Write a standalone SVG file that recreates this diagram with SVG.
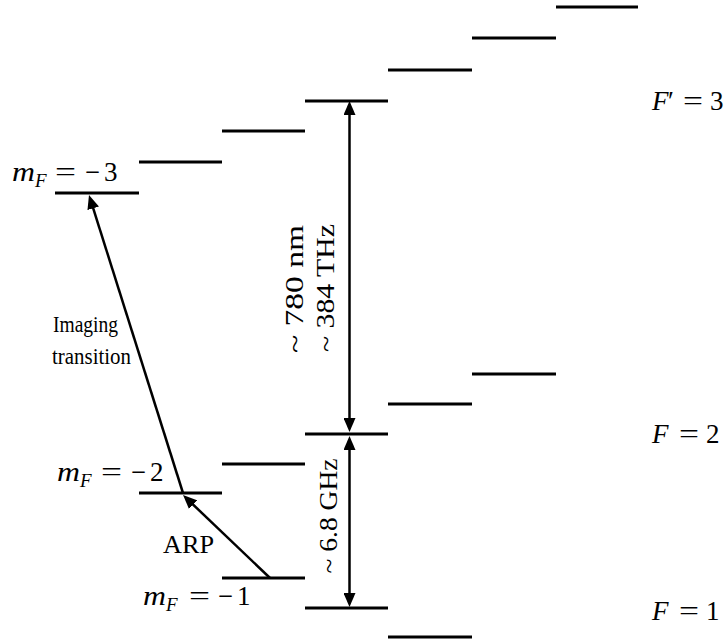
<svg xmlns="http://www.w3.org/2000/svg" width="724" height="641" viewBox="0 0 724 641">
<style>
.lvl{stroke:#000;stroke-width:3;}
.arr{stroke:#000;stroke-width:2.5;fill:none;}
.t{font-family:"Liberation Serif","Times New Roman",serif;fill:#000;}
.m{font-family:"Liberation Serif","Times New Roman",serif;fill:#000;font-size:27px;}
.i{font-style:italic;}
.sub{font-style:italic;font-size:19px;}
</style>
<defs>
<marker id="ah" markerUnits="userSpaceOnUse" markerWidth="14" markerHeight="12" viewBox="0 0 14 12" refX="6" refY="6" orient="auto-start-reverse">
<path d="M0,0 L14,6 L0,12 z" fill="#000"/>
</marker>
</defs>
<rect width="724" height="641" fill="#fff"/>

<g id="excited-Fp3">
<line class="lvl" x1="556" y1="7" x2="638" y2="7"/>
<line class="lvl" x1="472" y1="38" x2="556" y2="38"/>
<line class="lvl" x1="388" y1="70" x2="472" y2="70"/>
<line class="lvl" x1="305" y1="101" x2="388" y2="101"/>
<line class="lvl" x1="222" y1="131" x2="305" y2="131"/>
<line class="lvl" x1="139" y1="162" x2="222" y2="162"/>
<line class="lvl" x1="55" y1="193" x2="139" y2="193"/>
</g>
<g id="ground-F2">
<line class="lvl" x1="472" y1="374" x2="556" y2="374"/>
<line class="lvl" x1="388" y1="404" x2="472" y2="404"/>
<line class="lvl" x1="305" y1="434" x2="388" y2="434"/>
<line class="lvl" x1="222" y1="464" x2="305" y2="464"/>
<line class="lvl" x1="139" y1="493" x2="222" y2="493"/>
</g>
<g id="ground-F1">
<line class="lvl" x1="222" y1="578" x2="305" y2="578"/>
<line class="lvl" x1="305" y1="608" x2="388" y2="608"/>
<line class="lvl" x1="388" y1="637" x2="472" y2="637"/>
</g>

<g id="connectors">
<line class="arr" x1="349.5" y1="109" x2="349.5" y2="424" marker-start="url(#ah)" marker-end="url(#ah)"/>
<line class="arr" x1="349.5" y1="444" x2="349.5" y2="599" marker-start="url(#ah)" marker-end="url(#ah)"/>
<line class="arr" x1="183" y1="493" x2="91.4" y2="202.6" marker-end="url(#ah)"/>
<line class="arr" x1="270" y1="578" x2="188.8" y2="500.5" marker-end="url(#ah)"/>
</g>

<g id="label-mF-3">
<text class="m i" x="12" y="181" textLength="23" lengthAdjust="spacingAndGlyphs">m</text>
<text class="m sub" x="35" y="187">F</text>
<text class="m" x="55" y="181" textLength="21" lengthAdjust="spacingAndGlyphs">=</text>
<text class="m" x="85" y="181" textLength="15" lengthAdjust="spacingAndGlyphs">−</text>
<text class="m" x="104" y="181">3</text>
</g>
<g id="label-mF-2">
<text class="m i" x="57" y="481" textLength="23" lengthAdjust="spacingAndGlyphs">m</text>
<text class="m sub" x="80" y="487">F</text>
<text class="m" x="101" y="481" textLength="21" lengthAdjust="spacingAndGlyphs">=</text>
<text class="m" x="131" y="481" textLength="15" lengthAdjust="spacingAndGlyphs">−</text>
<text class="m" x="150" y="481">2</text>
</g>
<g id="label-mF-1">
<text class="m i" x="143" y="605" textLength="23" lengthAdjust="spacingAndGlyphs">m</text>
<text class="m sub" x="166" y="611">F</text>
<text class="m" x="189" y="605" textLength="21" lengthAdjust="spacingAndGlyphs">=</text>
<text class="m" x="218" y="605" textLength="15" lengthAdjust="spacingAndGlyphs">−</text>
<text class="m" x="237" y="605">1</text>
</g>

<g id="label-Fp3">
<text class="m i" x="652" y="110">F</text>
<text class="m" x="668" y="110">′</text>
<text class="m" x="683" y="110" textLength="20" lengthAdjust="spacingAndGlyphs">=</text>
<text class="m" x="710" y="110">3</text>
</g>
<g id="label-F2">
<text class="m i" x="652" y="443">F</text>
<text class="m" x="679" y="443" textLength="20" lengthAdjust="spacingAndGlyphs">=</text>
<text class="m" x="706" y="443">2</text>
</g>
<g id="label-F1">
<text class="m i" x="652" y="620">F</text>
<text class="m" x="679" y="620" textLength="20" lengthAdjust="spacingAndGlyphs">=</text>
<text class="m" x="706" y="620">1</text>
</g>

<g id="texts">
<text class="t" font-size="24" x="53" y="332" textLength="65" lengthAdjust="spacingAndGlyphs">Imaging</text>
<text class="t" font-size="24" x="52" y="364" textLength="79" lengthAdjust="spacingAndGlyphs">transition</text>
<text class="t" font-size="26" x="163" y="553" textLength="51" lengthAdjust="spacingAndGlyphs">ARP</text>
<text class="t" font-size="26" transform="translate(303,289) rotate(-90)" text-anchor="middle" textLength="128" lengthAdjust="spacingAndGlyphs">~ 780 nm</text>
<text class="t" font-size="26" transform="translate(334,288) rotate(-90)" text-anchor="middle" textLength="128" lengthAdjust="spacingAndGlyphs">~ 384 THz</text>
<text class="t" font-size="26" transform="translate(337,516) rotate(-90)" text-anchor="middle" textLength="115" lengthAdjust="spacingAndGlyphs">~ 6.8 GHz</text>
</g>
</svg>
